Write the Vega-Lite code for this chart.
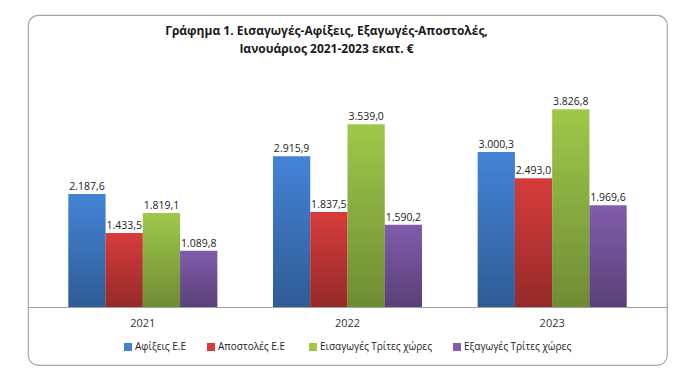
{
  "$schema": "https://vega.github.io/schema/vega-lite/v6.json",
  "autosize": "none",
  "width": 639,
  "height": 350,
  "padding": {"left": 28, "top": 15, "right": 33, "bottom": 25},
  "background": "white",
  "config": {
    "font": "Open Sans",
    "view": {"stroke": "#a6a6a6", "strokeWidth": 1.2, "cornerRadius": 10},
    "locale": {"number": {"decimal": ",", "thousands": ".", "grouping": [3], "currency": ["", " €"]}}
  },
  "title": {
    "text": ["Γράφημα 1. Εισαγωγές-Αφίξεις, Εξαγωγές-Αποστολές,", "Ιανουάριος 2021-2023 εκατ. €"],
    "fontSize": 12,
    "fontWeight": "bold",
    "color": "#1a1a1a",
    "anchor": "middle",
    "frame": "group",
    "offset": -41,
    "dx": -21,
    "lineHeight": 18
  },
  "data": {
    "values": [
      {"year": "2021", "series": "Αφίξεις Ε.Ε", "value": 2187.6},
      {"year": "2021", "series": "Αποστολές  Ε.Ε", "value": 1433.5},
      {"year": "2021", "series": "Εισαγωγές Τρίτες χώρες", "value": 1819.1},
      {"year": "2021", "series": "Εξαγωγές Τρίτες χώρες", "value": 1089.8},
      {"year": "2022", "series": "Αφίξεις Ε.Ε", "value": 2915.9},
      {"year": "2022", "series": "Αποστολές  Ε.Ε", "value": 1837.5},
      {"year": "2022", "series": "Εισαγωγές Τρίτες χώρες", "value": 3539.0},
      {"year": "2022", "series": "Εξαγωγές Τρίτες χώρες", "value": 1590.2},
      {"year": "2023", "series": "Αφίξεις Ε.Ε", "value": 3000.3},
      {"year": "2023", "series": "Αποστολές  Ε.Ε", "value": 2493.0},
      {"year": "2023", "series": "Εισαγωγές Τρίτες χώρες", "value": 3826.8},
      {"year": "2023", "series": "Εξαγωγές Τρίτες χώρες", "value": 1969.6}
    ]
  },
  "encoding": {
    "x": {
      "field": "year",
      "type": "nominal",
      "scale": {"paddingInner": 0.272, "paddingOuter": 0.197},
      "axis": {
        "title": null,
        "orient": "bottom",
        "offset": -58,
        "labelAngle": 0,
        "ticks": false,
        "labelPadding": 10,
        "labelFontSize": 11,
        "labelColor": "#333333",
        "domainColor": "#a0a0a0",
        "domainWidth": 1.2,
        "grid": false
      }
    },
    "xOffset": {
      "field": "series",
      "type": "nominal",
      "sort": ["Αφίξεις Ε.Ε", "Αποστολές  Ε.Ε", "Εισαγωγές Τρίτες χώρες", "Εξαγωγές Τρίτες χώρες"],
      "scale": {"paddingInner": 0, "paddingOuter": 0}
    },
    "y": {
      "field": "value",
      "type": "quantitative",
      "scale": {"domain": [-1123, 5652], "nice": false, "zero": false},
      "axis": null
    }
  },
  "layer": [
    {
      "mark": {"type": "bar"},
      "encoding": {
        "y2": {"datum": 0},
        "color": {
          "field": "series",
          "type": "nominal",
          "scale": {
            "domain": ["Αφίξεις Ε.Ε", "Αποστολές  Ε.Ε", "Εισαγωγές Τρίτες χώρες", "Εξαγωγές Τρίτες χώρες"],
            "range": ["#4383d6", "#d63c3b", "#9fc84a", "#805cab"]
          },
          "legend": {
            "title": null,
            "orient": "none",
            "legendX": 95,
            "legendY": 327,
            "direction": "horizontal",
            "symbolType": "square",
            "symbolSize": 64,
            "symbolStrokeWidth": 0,
            "symbolOpacity": 1,
            "labelFontSize": 10,
            "labelColor": "#222222",
            "labelOffset": 2,
            "columnPadding": 20,
            "labelLimit": 300
          }
        }
      }
    },
    {
      "mark": {
        "type": "bar",
        "color": {
          "gradient": "linear",
          "x1": 0, "y1": 0, "x2": 0, "y2": 1,
          "stops": [
            {"offset": 0, "color": "rgba(0,0,0,0)"},
            {"offset": 1, "color": "rgba(0,0,0,0.3)"}
          ]
        }
      },
      "encoding": {
        "y2": {"datum": 0}
      }
    },
    {
      "mark": {"type": "text", "baseline": "bottom", "dy": -2, "fontSize": 10.5, "color": "#222222"},
      "encoding": {
        "text": {"field": "value", "type": "quantitative", "format": ",.1f"}
      }
    }
  ]
}
